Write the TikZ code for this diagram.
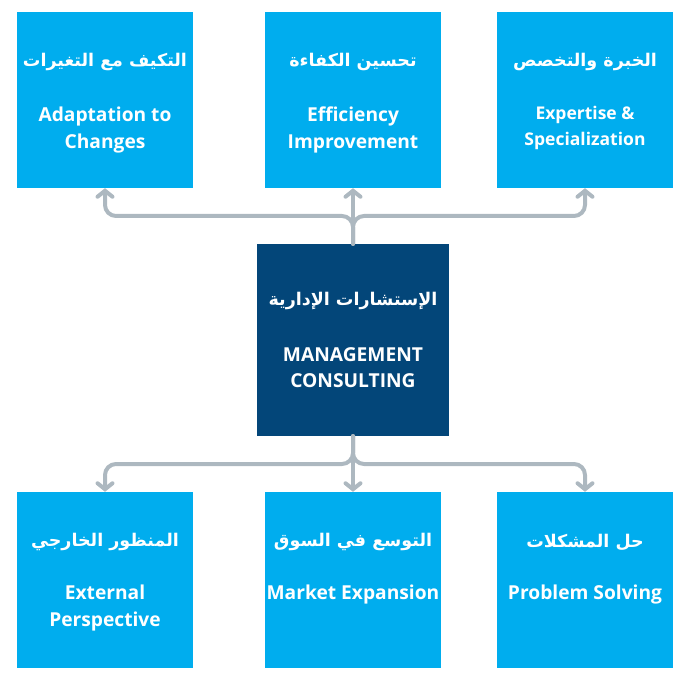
\documentclass[tikz,border=0pt]{standalone}
\usepackage{fontspec}
\setmainfont{Open Sans}
\newfontfamily\arabicfont[Script=Arabic]{DejaVu Sans}
\TeXXeTstate=1
\usetikzlibrary{arrows.meta}
\definecolor{lightbox}{HTML}{00ADEE}
\definecolor{darkbox}{HTML}{034679}
\definecolor{conncol}{HTML}{ADB8C0}
\tikzset{
  box/.style={fill=lightbox,minimum width=176pt,minimum height=176pt,inner sep=0pt},
  cbox/.style={fill=darkbox,minimum width=192pt,minimum height=192pt,inner sep=0pt},
  ar/.style={text=white,font=\arabicfont\bfseries\fontsize{17.5}{20}\selectfont,inner sep=0pt},
  en/.style={text=white,font=\bfseries\fontsize{19.2}{26.5}\selectfont,align=center,inner sep=0pt},
  conn/.style={draw=conncol,line width=4pt,rounded corners=11pt,line cap=round,
    -{Straight Barb[length=6pt,width=15pt,line cap=round]}},
}
\begin{document}
\begin{tikzpicture}[x=1pt,y=-1pt]
\useasboundingbox (0,0) rectangle (689,679);
% boxes
\node[box] (t1) at (105,100) {};
\node[box] (t2) at (353,100) {};
\node[box] (t3) at (585,100) {};
\node[cbox] (c) at (353,340) {};
\node[box] (b1) at (105,580) {};
\node[box] (b2) at (353,580) {};
\node[box] (b3) at (585,580) {};
% texts
\node[ar] (t1a) at (105,62) {\beginR التكيف مع التغيرات\endR};
\node[en,anchor=north] (t1e) at (105,107) {Adaptation to\\Changes};
\node[ar] (t2a) at (353,62) {\beginR تحسين الكفاءة\endR};
\node[en,anchor=north] (t2e) at (353,107) {Efficiency\\Improvement};
\node[ar] (t3a) at (585,62) {\beginR الخبرة والتخصص\endR};
\node[en,anchor=north,font=\bfseries\fontsize{17.5}{26}\selectfont] (t3e) at (585,106) {Expertise \&\\Specialization};
\node[ar] (ca) at (353,301) {\beginR الإستشارات الإدارية\endR};
\node[en,anchor=north] (ce) at (353,347) {MANAGEMENT\\CONSULTING};
\node[ar] (b1a) at (105,542) {\beginR المنظور الخارجي\endR};
\node[en,anchor=north] (b1e) at (105,585) {External\\Perspective};
\node[ar] (b2a) at (353,542) {\beginR التوسع في السوق\endR};
\node[en,anchor=north] (b2e) at (353,585) {Market Expansion};
\node[ar] (b3a) at (585,542) {\beginR حل المشكلات\endR};
\node[en,anchor=north] (b3e) at (585,585) {Problem Solving};
% connectors
\draw[conn] (c.north) -- (c.north |- 0,216) -| (t1.south);
\draw[conn] (c.north) -- (c.north |- 0,216) -| (t3.south);
\draw[conn] (c.north) -- (t2.south);
\draw[conn] (c.south) -- (c.south |- 0,464) -| (b1.north);
\draw[conn] (c.south) -- (c.south |- 0,464) -| (b3.north);
\draw[conn] (c.south) -- (b2.north);
\end{tikzpicture}
\end{document}
